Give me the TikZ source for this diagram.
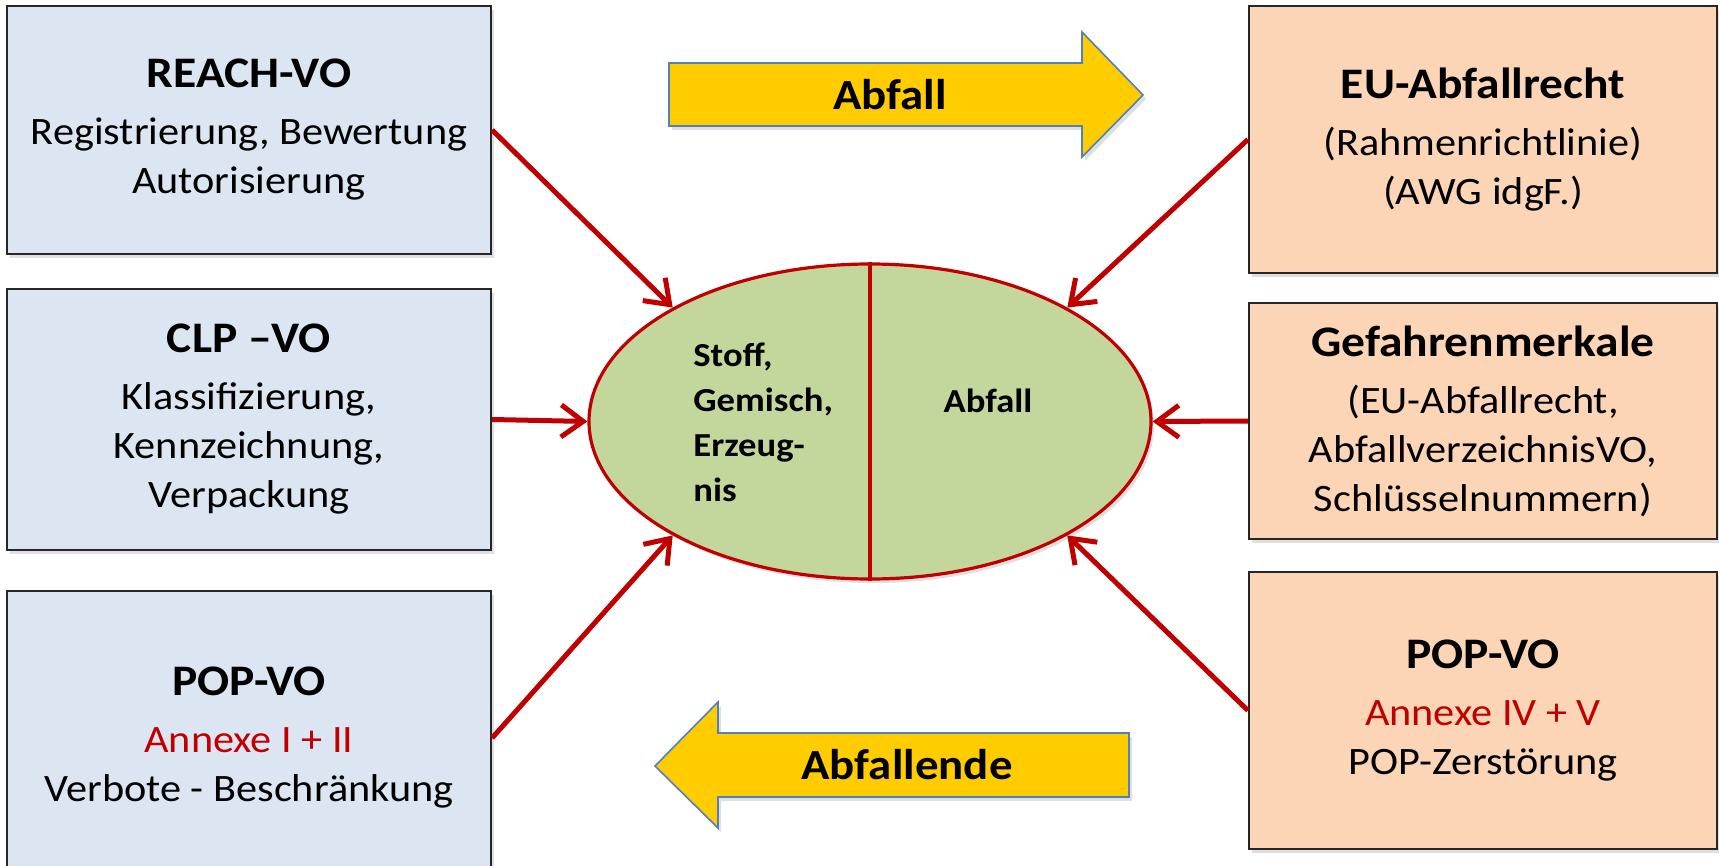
\documentclass[tikz,border=0pt]{standalone}
\usepackage{fontspec}
\setmainfont{Carlito}[FakeStretch=1.09]
\usetikzlibrary{positioning,calc,shapes.geometric,arrows.meta,shadows}

\definecolor{chemblue}{HTML}{DCE6F2}
\definecolor{wastepeach}{HTML}{FBD5B5}
\definecolor{coregreen}{HTML}{C3D69B}
\definecolor{linkred}{HTML}{C00000}
\definecolor{flowgold}{HTML}{FFCC00}
\definecolor{flowedge}{HTML}{4F81BD}

\newcommand{\lawtitle}[1]{{\fontsize{21.8}{24}\selectfont\bfseries #1}\\[4pt]}

\begin{document}
\begin{tikzpicture}[x=0.5pt,y=-0.5pt]
\tikzset{law/.style={draw=black!85, line width=1.1pt, align=center, inner sep=0pt,
    font=\fontsize{19.4}{24.5}\selectfont,
    drop shadow={shadow xshift=1.5pt,shadow yshift=-2pt,opacity=0.25}},
  chem/.style={law, fill=chemblue, minimum width=242pt},
  waste/.style={law, fill=wastepeach, minimum width=234pt},
  link/.style={draw=linkred, line width=2.5pt, -{Straight Barb[length=11pt,width=16pt]}},
  flow/.style={draw=flowedge, line width=0.8pt, fill=flowgold,
    drop shadow={shadow xshift=1.5pt,shadow yshift=-2pt,opacity=0.25}},
  flowlabel/.style={font=\fontsize{21.5}{24}\selectfont\bfseries, inner sep=0pt}};
   \useasboundingbox (0,0) rectangle (1719,866);
   \clip (0,0) rectangle (1719,866);

   % left: chemicals law
   \node[chem, minimum height=124pt] (reach) at (249,130)
      {\lawtitle{REACH-VO}Registrierung, Bewertung\\Autorisierung};
   \node[chem, minimum height=130.5pt] (clp) at (249,419.5)
      {\lawtitle{CLP –VO}Klassifizierung,\\Kennzeichnung,\\Verpackung};
   \node[chem, minimum height=147pt] (popl) at (249,738)
      {\lawtitle{POP-VO}{\color{linkred}Annexe I + II}\\Verbote - Beschränkung};

   % right: waste law
   \node[waste, minimum height=133.5pt] (eu) at (1483,139.5)
      {\lawtitle{EU-Abfallrecht}(Rahmenrichtlinie)\\(AWG idgF.)};
   \node[waste, minimum height=118pt] (gef) at (1483,421)
      {\lawtitle{Gefahrenmerkale}(EU-Abfallrecht,\\AbfallverzeichnisVO,\\Schlüsselnummern)};
   \node[waste, minimum height=138.5pt] (popr) at (1483,710.5)
      {\lawtitle{POP-VO}{\color{linkred}Annexe IV + V}\\POP-Zerstörung};

   % centre
   \node[ellipse, draw=linkred, line width=1.6pt, fill=coregreen, inner sep=0pt,
         minimum width=281pt, minimum height=157.5pt,
         drop shadow={shadow xshift=1.5pt,shadow yshift=-2pt,opacity=0.25}] (core) at (870,421.5) {};
   \draw[draw=linkred, line width=2pt] (core.north) -- (core.south);
   \node[anchor=north west, align=left, inner sep=0pt,
         font=\fontsize{16.8}{22.5}\selectfont\bfseries] (product) at (693,342)
      {Stoff,\\Gemisch,\\Erzeug-\\nis};
   \node[anchor=base, inner sep=0pt, font=\fontsize{16.8}{22.5}\selectfont\bfseries] (waste) at (988,412) {Abfall};

   \draw[link] (reach.east) -- (core.150);
   \draw[link] (clp.east) -- (core.west);
   \draw[link] (popl.east) -- (core.210);
   \draw[link] (eu.west) -- (core.30);
   \draw[link] (gef.west) -- (core.east);
   \draw[link] (popr.west) -- (core.330);

   % block arrows
   \draw[flow] (669,63) -- (1082,63) -- (1082,32) -- (1143,95) -- (1082,157) -- (1082,126) -- (669,126) -- cycle;
   \node[flowlabel] (towaste) at (890,95) {Abfall};
   \draw[flow] (1129,733) -- (718,733) -- (718,702) -- (655,766) -- (718,828) -- (718,797) -- (1129,797) -- cycle;
   \node[flowlabel] (endwaste) at (907,765) {Abfallende};
\end{tikzpicture}
\end{document}
